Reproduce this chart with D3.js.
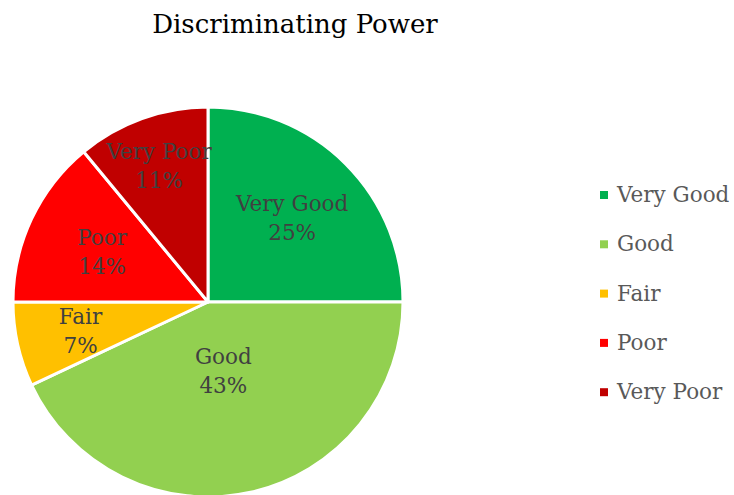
<!DOCTYPE html>
<html>
<head>
<meta charset="utf-8">
<script src="https://cdn.jsdelivr.net/npm/d3@7"></script>
<style>
  body { margin: 0; background: #fff; }
  svg { display: block; font-family: "Palatino Linotype", "Book Antiqua", Palatino, "DejaVu Serif", serif; }
</style>
</head>
<body>
<svg width="734" height="495"></svg>
<script>
// data
const categories = ['Very Good', 'Good', 'Fair', 'Poor', 'Very Poor'];
const shares = [25, 43, 7, 14, 11];
const colors = ['#00B050', '#92D050', '#FFC000', '#FF0000', '#C00000'];

// label distance from centre, as a fraction of the radius (Excel best fit)
const labelPos = [0.61, 0.36, 0.67, 0.6, 0.74];

const svg = d3.select('svg');
const width = +svg.attr('width');

const radius = 195;
const cx = 208;
const cy = 302;

svg.append('text')
    .attr('x', 295)
    .attr('y', 33)
    .attr('text-anchor', 'middle')
    .attr('font-size', 26)
    .attr('fill', '#000')
    .text('Discriminating Power');

const pie = d3.pie().sort(null).value(d => d.value);
const arcs = pie(categories.map((c, i) => ({ name: c, value: shares[i], i })));

const arc = d3.arc().innerRadius(0).outerRadius(radius);

const g = svg.append('g')
    .attr('transform', `translate(${cx}, ${cy})`);

g.selectAll('path')
    .data(arcs)
    .join('path')
    .attr('d', arc)
    .attr('fill', d => colors[d.data.i])
    .attr('stroke', '#fff')
    .attr('stroke-width', 3)
    .attr('stroke-linejoin', 'round');

const labels = g.selectAll('text.lbl')
    .data(arcs)
    .join('text')
    .attr('class', 'lbl')
    .attr('transform', d => {
        const r = radius * labelPos[d.data.i];
        const c = d3.arc().innerRadius(r).outerRadius(r).centroid(d);
        return `translate(${c[0]}, ${c[1]})`;
    })
    .attr('text-anchor', 'middle')
    .attr('font-size', 21.5)
    .attr('fill', '#404040');

labels.append('tspan')
    .attr('x', 0)
    .attr('y', -7)
    .text(d => d.data.name);

labels.append('tspan')
    .attr('x', 0)
    .attr('y', 22)
    .text(d => d.data.value + '%');

// legend
const legend = svg.append('g')
    .attr('transform', 'translate(600, 195)');

const item = legend.selectAll('g')
    .data(categories)
    .join('g')
    .attr('transform', (d, i) => `translate(0, ${i * 49.3})`);

item.append('rect')
    .attr('x', 0)
    .attr('y', -4)
    .attr('width', 8)
    .attr('height', 8)
    .attr('fill', (d, i) => colors[i]);

item.append('text')
    .attr('x', 17)
    .attr('y', 7)
    .attr('font-size', 21.5)
    .attr('fill', '#595959')
    .text(d => d);
</script>
</body>
</html>
